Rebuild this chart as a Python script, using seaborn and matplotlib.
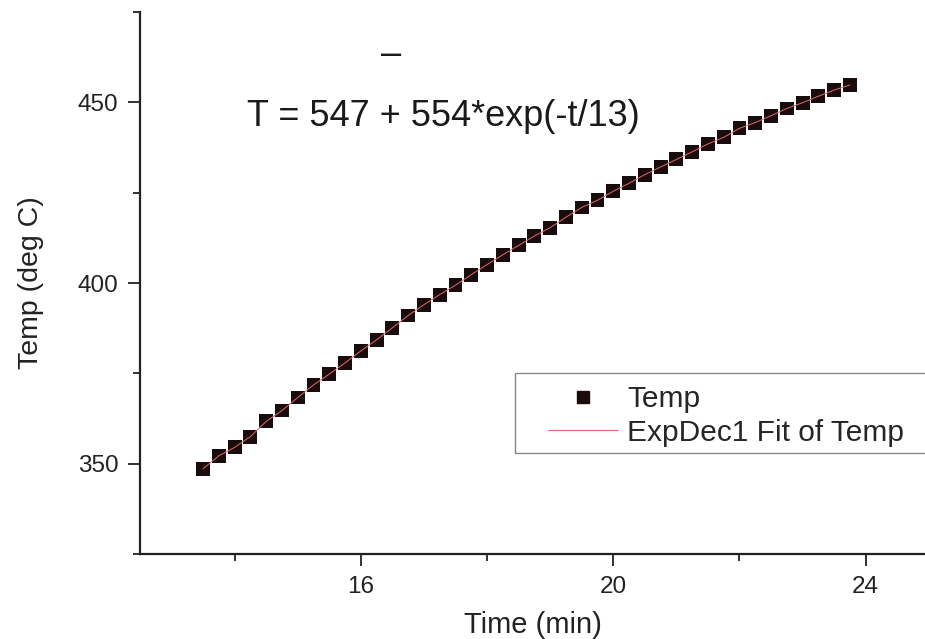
import matplotlib
matplotlib.use("Agg")
import matplotlib.pyplot as plt
import seaborn as sns
import pandas as pd
from matplotlib.patches import Rectangle
from matplotlib.lines import Line2D

# ---- data ----
time_min = [13.50, 13.75, 14.00, 14.25, 14.50, 14.75, 15.00, 15.25, 15.50, 15.75,
            16.00, 16.25, 16.50, 16.75, 17.00, 17.25, 17.50, 17.75, 18.00, 18.25,
            18.50, 18.75, 19.00, 19.25, 19.50, 19.75, 20.00, 20.25, 20.50, 20.75,
            21.00, 21.25, 21.50, 21.75, 22.00, 22.25, 22.50, 22.75, 23.00, 23.25,
            23.50, 23.75]
temp_c = [348.6, 352.2, 354.5, 357.5, 361.7, 364.7, 368.3, 371.8, 374.8, 377.9,
          381.2, 384.3, 387.6, 391.0, 394.0, 396.8, 399.4, 402.3, 405.1, 407.8,
          410.4, 413.0, 415.3, 418.2, 420.9, 422.9, 425.4, 427.6, 430.0, 432.1,
          434.2, 436.3, 438.5, 440.3, 442.8, 444.4, 446.3, 448.3, 449.9, 451.7,
          453.4, 454.8]
x_major = [16, 20, 24]
x_minor = [14, 18, 22]
y_major = [350, 400, 450]
y_minor = [325, 375, 425, 475]
equation = "T = 547 + 554*exp(-t/13)"
series_labels = ["Temp", "ExpDec1 Fit of Temp"]

df = pd.DataFrame({"Time (min)": time_min, "Temp (deg C)": temp_c})

sns.set_theme(style="ticks")
plt.rcParams["font.family"] = ["Liberation Sans", "DejaVu Sans"]

W, H = 925, 639
fig = plt.figure(figsize=(W / 100, H / 100), dpi=100)
ax = fig.add_axes([140 / W, 1 - 554 / H, 785 / W, (554 - 12) / H])

sns.scatterplot(data=df, x="Time (min)", y="Temp (deg C)", ax=ax, marker="s",
                s=100, color="#1a0c0c", edgecolor="none", zorder=3, legend=False)
sns.lineplot(data=df, x="Time (min)", y="Temp (deg C)", ax=ax, color="#e06a6a",
             linewidth=0.7, zorder=4, legend=False)

ax.set_xlim(12.5, 24.94)
ax.set_ylim(325, 475)
ax.set_xticks(x_major)
ax.set_xticks(x_minor, minor=True)
ax.set_yticks(y_major)
ax.set_yticks(y_minor, minor=True)

for side in ["top", "right"]:
    ax.spines[side].set_visible(False)
for side in ["left", "bottom"]:
    ax.spines[side].set_linewidth(1.6)
    ax.spines[side].set_color("#222222")

ax.tick_params(which="major", length=8.5, width=1.3, color="#222222",
               labelsize=17.5, labelcolor="#222222", pad=7, direction="out")
ax.tick_params(which="minor", length=5, width=1.3, color="#222222", direction="out")

ax.set_xlabel("Time (min)", fontsize=21, color="#222222", labelpad=10)
ax.set_ylabel("Temp (deg C)", fontsize=20.5, color="#222222", labelpad=24)

# equation annotation
fig.text(443 / W, 1 - 116 / H, equation, fontsize=26, color="#1a1a1a",
         ha="center", va="center")
fig.text(391 / W, 1 - 54 / H, "\u2013", fontsize=26, color="#1a1a1a",
         ha="center", va="center")

# legend
fig.patches.append(Rectangle((515 / W, 1 - 453 / H), 420 / W, 80 / H,
                             transform=fig.transFigure, fill=False,
                             edgecolor="#888888", linewidth=1.0))
handles = [Line2D([], [], marker="s", linestyle="none", color="#1a0c0c",
                  markersize=8),
           Line2D([], [], color="#e06a6a", linewidth=0.8)]
fig.legend(handles, series_labels, loc="upper left",
           bbox_to_anchor=(542 / W, 1 - 379 / H), frameon=False,
           fontsize=21.5, handlelength=2.35, handletextpad=0.3,
           labelspacing=0.19, borderpad=0.2, borderaxespad=0)

fig.savefig("out.png", dpi=100)
